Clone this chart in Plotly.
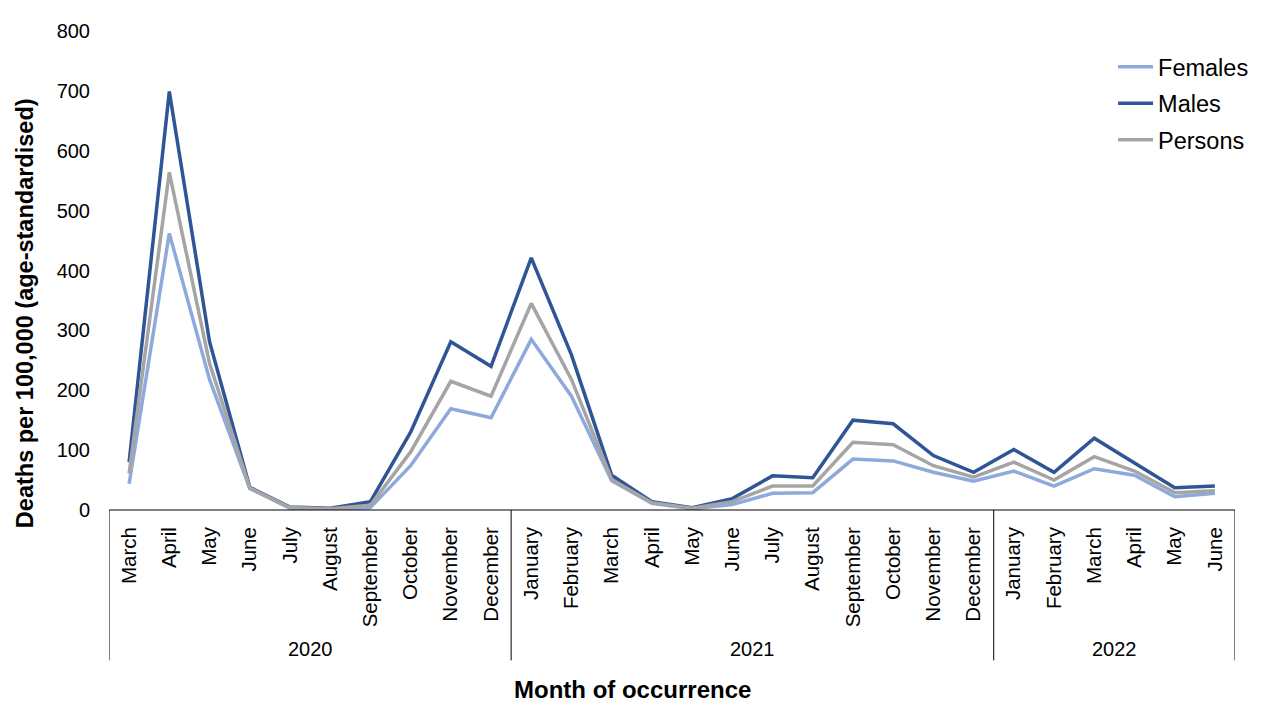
import plotly.graph_objects as go

months = ["March", "April", "May", "June", "July", "August", "September", "October",
          "November", "December",
          "January", "February", "March", "April", "May", "June", "July", "August",
          "September", "October", "November", "December",
          "January", "February", "March", "April", "May", "June"]
years = ["2020", "2021", "2022"]
year_counts = [10, 12, 6]

females = [44, 462, 218, 36, 3, 0, 4, 74, 169, 154,
           285, 190, 49, 11, 2, 9, 28, 29, 85, 82, 63, 48,
           65, 40, 69, 58, 22, 28]
males = [80, 699, 281, 38, 5, 3, 14, 130, 281, 240,
         421, 259, 58, 14, 4, 19, 57, 54, 150, 144, 91, 63,
         101, 63, 120, 78, 37, 40]
persons = [61, 564, 245, 37, 4, 2, 8, 97, 215, 190,
           345, 218, 51, 12, 3, 14, 40, 40, 113, 109, 74, 55,
           80, 50, 89, 65, 29, 32]

x = list(range(len(months)))
FONT = "Liberation Sans, Arial, sans-serif"

fig = go.Figure()
for name, vals, col in [("Females", females, "#8EA9DB"),
                        ("Males", males, "#2F5597"),
                        ("Persons", persons, "#A5A5A5")]:
    fig.add_trace(go.Scatter(x=x, y=vals, mode="lines", name=name, legendgroup=name,
                             line=dict(color=col, width=3.5)))

shapes = []
shapes.append(dict(type="line", xref="paper", yref="paper", x0=0, x1=1, y0=0, y1=0,
                   line=dict(color="#000000", width=1)))
bounds = [-0.5]
c = -0.5
for n in year_counts:
    c += n
    bounds.append(c)
for b in bounds:
    shapes.append(dict(type="line", xref="x", yref="paper", x0=b, x1=b, y0=0, y1=-0.314,
                       line=dict(color="#000000", width=1)))

annotations = []
start = 0
for yr, n in zip(years, year_counts):
    annotations.append(dict(x=start + (n - 1) / 2, y=-0.291, xref="x", yref="paper",
                            text=yr, showarrow=False, font=dict(size=20, color="#000"),
                            yanchor="middle"))
    start += n
annotations.append(dict(x=0.4645, y=-0.374, xref="paper", yref="paper",
                        text="<b>Month of occurrence</b>", showarrow=False,
                        font=dict(size=24, color="#000"), yanchor="middle"))
annotations.append(dict(x=-0.0746, y=0.411, xref="paper", yref="paper",
                        text="<b>Deaths per 100,000 (age-standardised)</b>", showarrow=False,
                        textangle=-90, font=dict(size=23.5, color="#000"),
                        xanchor="center", yanchor="middle"))

fig.update_layout(
    width=1259, height=694,
    margin=dict(l=101, r=32, t=18, b=192),
    paper_bgcolor="white", plot_bgcolor="white",
    font=dict(family=FONT, size=20, color="#000"),
    showlegend=True,
    legend=dict(x=0.8917, y=0.971, xanchor="left", yanchor="top",
                font=dict(size=23.5), bgcolor="rgba(0,0,0,0)",
                itemwidth=35, tracegroupgap=3),
    xaxis=dict(range=[-0.5, len(months) - 0.5], tickmode="array", tickvals=x,
               ticktext=months, tickangle=-90, showgrid=False, zeroline=False,
               showline=False, ticks="", tickfont=dict(size=20.5), ticklabelstandoff=12),
    yaxis=dict(range=[0, 800], dtick=100, showgrid=False, zeroline=False,
               showline=False, ticks="", tickfont=dict(size=20), ticklabelstandoff=18),
    shapes=shapes, annotations=annotations,
)

fig.write_html("out.html")
